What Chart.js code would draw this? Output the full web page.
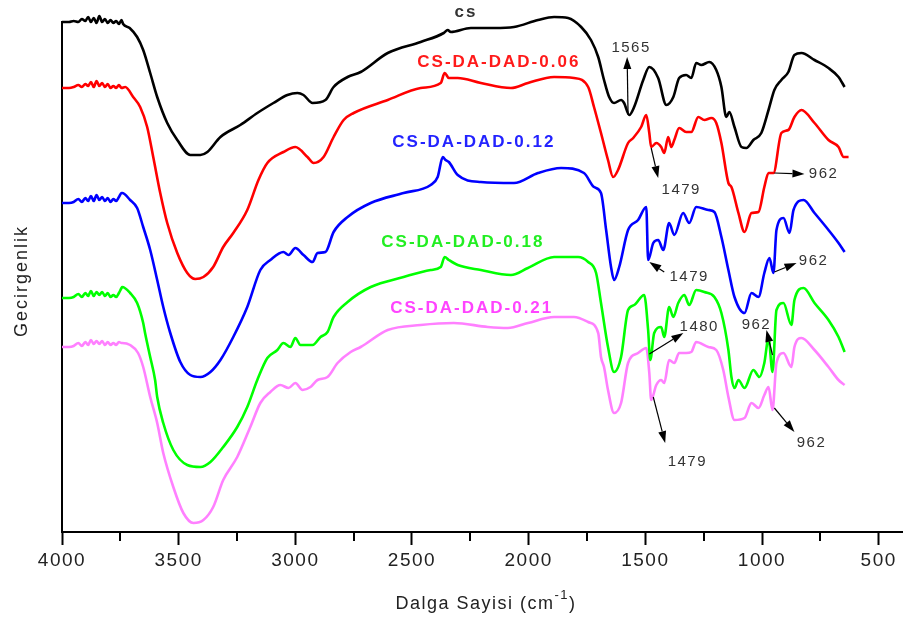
<!DOCTYPE html>
<html>
<head>
<meta charset="utf-8">
<title>FTIR - CS / CS-DA-DAD</title>
<script src="https://cdn.jsdelivr.net/npm/chart.js@4/dist/chart.umd.min.js"></script>
<style>
  html, body { margin: 0; padding: 0; background: #ffffff; }
  canvas { display: block; }
</style>
</head>
<body>
<canvas id="ftir" width="905" height="621"></canvas>
<script>
// FTIR spectra, [wavenumber (cm-1), transmittance (a.u., curves offset)]
const spectrumCS = [
  [4000,516],[3970,516],[3950,517],[3930,516],[3915,519],[3900,517],[3888,521],[3876,516],[3864,520],[3852,515],
  [3840,522],[3828,516],[3816,519],[3804,515],[3792,518],[3780,515],[3768,517],[3756,514],[3745,518],[3738,514],
  [3710,510],[3678,501],[3652,488],[3622,465],[3592,441],[3549,415],[3506,398],[3450,383],
  [3407,383],[3377,386],[3321,401],[3236,413],[3163,425],[3094,435],[3034,443],[2991,445],[2965,443],[2926,435],
  [2871,438],[2836,451],[2776,461],[2720,466],[2604,485],[2463,496],[2364,505],[2347,508],[2334,506],[2248,510],
  [2149,510],[2063,511],[1960,518],[1891,521],[1831,520],[1775,511],[1733,498],[1702,481],[1677,458],[1655,441],
  [1634,435],[1604,438],[1591,435],[1569,423],[1548,431],[1509,458],[1483,471],[1445,460],[1410,433],[1380,441],
  [1355,460],[1325,463],[1303,460],[1282,475],[1260,473],[1226,476],[1196,468],[1174,451],[1153,421],[1140,426],
  [1118,411],[1088,391],[1067,390],[1037,398],[1003,405],[972,428],[947,448],[917,458],[887,466],[861,483],
  [831,485],[775,478],[715,470],[672,461],[646,451]
];
const spectrum006 = [
  [4000,450],[3970,450],[3950,451],[3930,453],[3915,451],[3900,454],[3888,452],[3876,456],[3864,451],[3852,457],
  [3840,452],[3828,455],[3816,451],[3804,454],[3792,450],[3780,452],[3768,450],[3756,453],[3745,450],
  [3729,451],[3695,441],[3665,431],[3635,411],[3609,381],[3579,345],[3549,315],[3506,285],[3463,265],[3429,259],
  [3394,261],[3352,271],[3309,291],[3266,305],[3206,328],[3158,358],[3120,375],[3051,386],[3000,391],[2948,381],
  [2922,375],[2879,381],[2836,401],[2793,418],[2750,425],[2604,438],[2463,450],[2377,455],[2360,465],[2342,460],
  [2304,460],[2205,455],[2076,450],[2003,455],[1891,461],[1806,460],[1745,451],[1720,431],[1690,405],[1660,378],
  [1638,361],[1617,368],[1574,395],[1552,400],[1518,411],[1496,423],[1483,405],[1475,391],[1453,395],[1432,391],
  [1419,385],[1402,401],[1389,391],[1376,398],[1355,410],[1325,406],[1303,406],[1273,421],[1247,418],[1217,420],
  [1196,415],[1174,395],[1144,355],[1131,351],[1101,325],[1075,306],[1045,325],[1015,326],[990,351],[972,365],
  [951,365],[917,405],[887,408],[861,421],[831,428],[775,415],[715,398],[672,391],[650,381],[629,381]
];
const spectrum012 = [
  [4000,335],[3970,335],[3950,336],[3930,339],[3915,336],[3900,340],[3888,337],[3876,342],[3864,337],[3852,343],
  [3840,338],[3828,341],[3816,337],[3804,340],[3792,336],[3780,339],[3768,337],[3756,341],[3745,345],
  [3742,345],[3708,338],[3678,330],[3652,311],[3622,288],[3592,258],[3566,231],[3536,205],[3493,176],[3450,163],
  [3407,161],[3364,166],[3321,178],[3266,201],[3206,231],[3150,268],[3107,278],[3051,286],[3029,283],[3000,290],
  [2965,283],[2926,276],[2905,285],[2871,286],[2836,306],[2776,321],[2677,335],[2536,345],[2420,353],[2390,361],
  [2368,381],[2356,378],[2342,376],[2304,363],[2205,356],[2063,355],[1960,365],[1861,370],[1763,365],[1720,351],
  [1690,345],[1668,308],[1647,271],[1634,258],[1612,271],[1574,308],[1531,318],[1496,331],[1488,278],[1466,295],
  [1445,298],[1423,288],[1398,315],[1376,303],[1338,325],[1312,315],[1282,331],[1230,328],[1204,326],[1174,301],
  [1144,268],[1118,241],[1075,225],[1045,245],[1015,241],[990,265],[968,280],[951,265],[938,308],[908,320],
  [882,305],[865,328],[822,338],[775,325],[715,308],[672,295],[646,286]
];
const spectrum018 = [
  [4000,240],[3970,240],[3950,241],[3930,244],[3915,241],[3900,245],[3888,242],[3876,247],[3864,242],[3852,246],
  [3840,243],[3828,246],[3816,242],[3804,245],[3792,241],[3780,243],[3768,241],[3756,245],[3745,250],
  [3742,251],[3708,245],[3678,235],[3652,215],[3644,205],[3622,181],[3601,158],[3592,141],[3566,115],[3523,88],
  [3463,73],[3407,71],[3364,76],[3309,91],[3249,111],[3206,131],[3163,158],[3120,180],[3077,188],[3051,195],
  [3021,191],[3000,200],[2978,193],[2926,193],[2892,201],[2862,206],[2836,221],[2776,236],[2677,251],[2536,261],
  [2420,268],[2377,271],[2360,281],[2342,278],[2304,273],[2205,268],[2076,263],[2003,270],[1891,281],[1788,281],
  [1745,276],[1711,265],[1690,235],[1660,191],[1634,166],[1604,181],[1574,228],[1548,233],[1505,243],[1488,208],
  [1479,178],[1462,205],[1432,211],[1419,201],[1398,231],[1380,221],[1359,235],[1333,243],[1312,233],[1282,248],
  [1247,246],[1204,241],[1174,225],[1144,188],[1131,161],[1118,150],[1101,158],[1075,150],[1037,168],[1011,161],
  [990,175],[972,200],[955,166],[938,228],[908,235],[874,213],[861,238],[822,250],[775,235],[715,218],
  [672,201],[646,186]
];
const spectrum021 = [
  [4000,191],[3970,191],[3950,192],[3930,195],[3915,192],[3900,196],[3888,193],[3876,198],[3864,194],[3852,197],
  [3840,194],[3828,197],[3816,193],[3804,196],[3792,193],[3780,195],[3768,193],[3756,196],[3745,195],
  [3742,195],[3708,193],[3674,185],[3652,171],[3622,141],[3592,115],[3566,85],[3523,51],[3480,25],[3437,15],
  [3394,18],[3352,31],[3309,58],[3249,81],[3193,111],[3150,135],[3107,146],[3064,153],[3029,150],[3000,155],
  [2969,148],[2935,151],[2905,158],[2862,161],[2819,175],[2763,186],[2720,191],[2604,208],[2463,213],[2321,215],
  [2175,211],[2089,210],[2003,215],[1891,221],[1806,221],[1745,216],[1702,205],[1690,181],[1677,171],[1660,148],
  [1634,125],[1604,135],[1574,175],[1531,185],[1496,190],[1483,165],[1475,138],[1453,153],[1432,158],[1419,155],
  [1398,178],[1376,175],[1355,185],[1325,185],[1303,186],[1282,196],[1230,191],[1196,188],[1166,168],[1144,141],
  [1118,118],[1075,120],[1045,135],[1015,130],[990,143],[972,151],[955,128],[938,175],[908,185],[874,171],
  [861,191],[831,200],[775,188],[715,171],[672,158],[646,153]
];

const seriesNames = ['cs', 'CS-DA-DAD-0.06', 'CS-DA-DAD-0.12', 'CS-DA-DAD-0.18', 'CS-DA-DAD-0.21'];
const seriesData = [spectrumCS, spectrum006, spectrum012, spectrum018, spectrum021];
const xTickValues = [4000, 3500, 3000, 2500, 2000, 1500, 1000, 500];
const xMinorTickValues = [3750, 3250, 2750, 2250, 1750, 1250, 750];

// styling
const lineColors  = ['#000000', '#ff0000', '#0000ff', '#00ff00', '#ff80ff'];
const labelColors = ['#333333', '#ff1a1a', '#2323ff', '#22ee22', '#ff44ff'];
// where each series name sits, in axis units [wavenumber, transmittance]
const nameAnchors = [[2269, 526], [2128, 476], [2235, 396], [2282, 296], [2244, 230]];

// band assignments with arrows: tail on the curve, head, text anchor (axis units)
const bandNotes = [
  { text: '1565', tail: [1574, 423], head: [1578, 481], at: [1561, 490] },
  { text: '1479', tail: [1475, 390], head: [1445, 360], at: [1346, 348] },
  { text: '962',  tail: [947, 365],  head: [818, 364],  at: [736, 364] },
  { text: '1479', tail: [1419, 266], head: [1483, 276], at: [1312, 261] },
  { text: '962',  tail: [947, 266],  head: [852, 275],  at: [779, 277] },
  { text: '1480', tail: [1483, 184], head: [1337, 205], at: [1269, 211] },
  { text: '962',  tail: [955, 183],  head: [981, 208],  at: [1024, 213] },
  { text: '1479', tail: [1466, 141], head: [1415, 95],  at: [1320, 76] },
  { text: '962',  tail: [947, 130],  head: [861, 106],  at: [788, 95] }
];

const FONT = '"Liberation Sans", Arial, sans-serif';

function arrow(ctx, x1, y1, x2, y2) {
  const ang = Math.atan2(y2 - y1, x2 - x1);
  const len = 12, half = 4;
  const bx = x2 - len * Math.cos(ang), by = y2 - len * Math.sin(ang);
  ctx.beginPath();
  ctx.moveTo(x1, y1);
  ctx.lineTo(bx, by);
  ctx.stroke();
  ctx.beginPath();
  ctx.moveTo(x2, y2);
  ctx.lineTo(bx + half * Math.sin(ang), by - half * Math.cos(ang));
  ctx.lineTo(bx - half * Math.sin(ang), by + half * Math.cos(ang));
  ctx.closePath();
  ctx.fill();
}

const decorations = {
  id: 'decorations',
  beforeDraw(chart) {
    chart.ctx.letterSpacing = '1.5px';
  },
  afterDraw(chart) {
    const { ctx, scales: { x, y } } = chart;
    const px = v => x.getPixelForValue(v);
    const py = v => y.getPixelForValue(v);
    ctx.save();

    // minor ticks on the wavenumber axis
    ctx.strokeStyle = '#000';
    ctx.lineWidth = 2;
    xMinorTickValues.forEach(v => {
      const X = Math.round(px(v));
      ctx.beginPath();
      ctx.moveTo(X, y.bottom);
      ctx.lineTo(X, y.bottom + 9);
      ctx.stroke();
    });

    // series names
    ctx.textAlign = 'center';
    ctx.textBaseline = 'middle';
    ctx.letterSpacing = '2px';
    ctx.font = 'bold 17px ' + FONT;
    seriesNames.forEach((name, i) => {
      ctx.fillStyle = labelColors[i];
      ctx.fillText(name, px(nameAnchors[i][0]), py(nameAnchors[i][1]));
    });

    // band arrows and wavenumbers
    ctx.strokeStyle = '#000';
    ctx.fillStyle = '#000';
    ctx.lineWidth = 1.2;
    bandNotes.forEach(n => {
      arrow(ctx, px(n.tail[0]), py(n.tail[1]), px(n.head[0]), py(n.head[1]));
    });
    ctx.font = '15px ' + FONT;
    ctx.letterSpacing = '1.5px';
    ctx.fillStyle = '#333';
    bandNotes.forEach(n => {
      ctx.fillText(n.text, px(n.at[0]), py(n.at[1]));
    });

    // axis titles
    ctx.fillStyle = '#222';
    ctx.font = '18px ' + FONT;
    ctx.letterSpacing = '1.5px';
    const main = 'Dalga Sayisi (cm', sup = '-1', close = ')';
    const w1 = ctx.measureText(main).width;
    ctx.font = '13px ' + FONT;
    const w2 = ctx.measureText(sup).width;
    ctx.font = '18px ' + FONT;
    const w3 = ctx.measureText(close).width;
    const cx = (x.left + x.right) / 2 + 4;
    let sx = cx - (w1 + w2 + w3) / 2;
    const ty = 604;
    ctx.textAlign = 'left';
    ctx.fillText(main, sx, ty);
    ctx.font = '13px ' + FONT;
    ctx.fillText(sup, sx + w1, ty - 9);
    ctx.font = '18px ' + FONT;
    ctx.fillText(close, sx + w1 + w2, ty);

    ctx.translate(22, 281);
    ctx.rotate(-Math.PI / 2);
    ctx.textAlign = 'center';
    ctx.letterSpacing = '2px';
    ctx.fillText('Gecirgenlik', 0, 0);
    ctx.restore();
    ctx.letterSpacing = '0px';
  }
};

new Chart(document.getElementById('ftir'), {
  type: 'line',
  data: {
    datasets: seriesData.map((s, i) => ({
      label: seriesNames[i],
      data: s.map(p => ({ x: p[0], y: p[1] })),
      borderColor: lineColors[i],
      borderWidth: 2.6,
      pointRadius: 0,
      cubicInterpolationMode: 'monotone',
      fill: false,
      clip: false
    }))
  },
  options: {
    responsive: false,
    animation: false,
    devicePixelRatio: 1,
    layout: { padding: { top: 22, right: 3, left: 0, bottom: 0 } },
    plugins: { legend: { display: false }, tooltip: { enabled: false } },
    scales: {
      x: {
        type: 'linear',
        reverse: true,
        min: 400,
        max: 4000,
        afterFit: s => { s.height = 89; },
        afterBuildTicks: s => { s.ticks = xTickValues.map(v => ({ value: v })); },
        ticks: {
          autoSkip: false,
          maxRotation: 0,
          padding: 4,
          color: '#222',
          font: { family: FONT, size: 19 },
          callback: v => String(v)
        },
        grid: { drawOnChartArea: false, drawTicks: true, tickLength: 13, tickWidth: 2, tickColor: '#000' },
        border: { display: true, color: '#000', width: 2 }
      },
      y: {
        type: 'linear',
        min: 6,
        max: 516,
        afterFit: s => { s.width = 62; },
        ticks: { display: false },
        grid: { display: false },
        border: { display: true, color: '#000', width: 2 }
      }
    }
  },
  plugins: [decorations]
});
</script>
</body>
</html>
